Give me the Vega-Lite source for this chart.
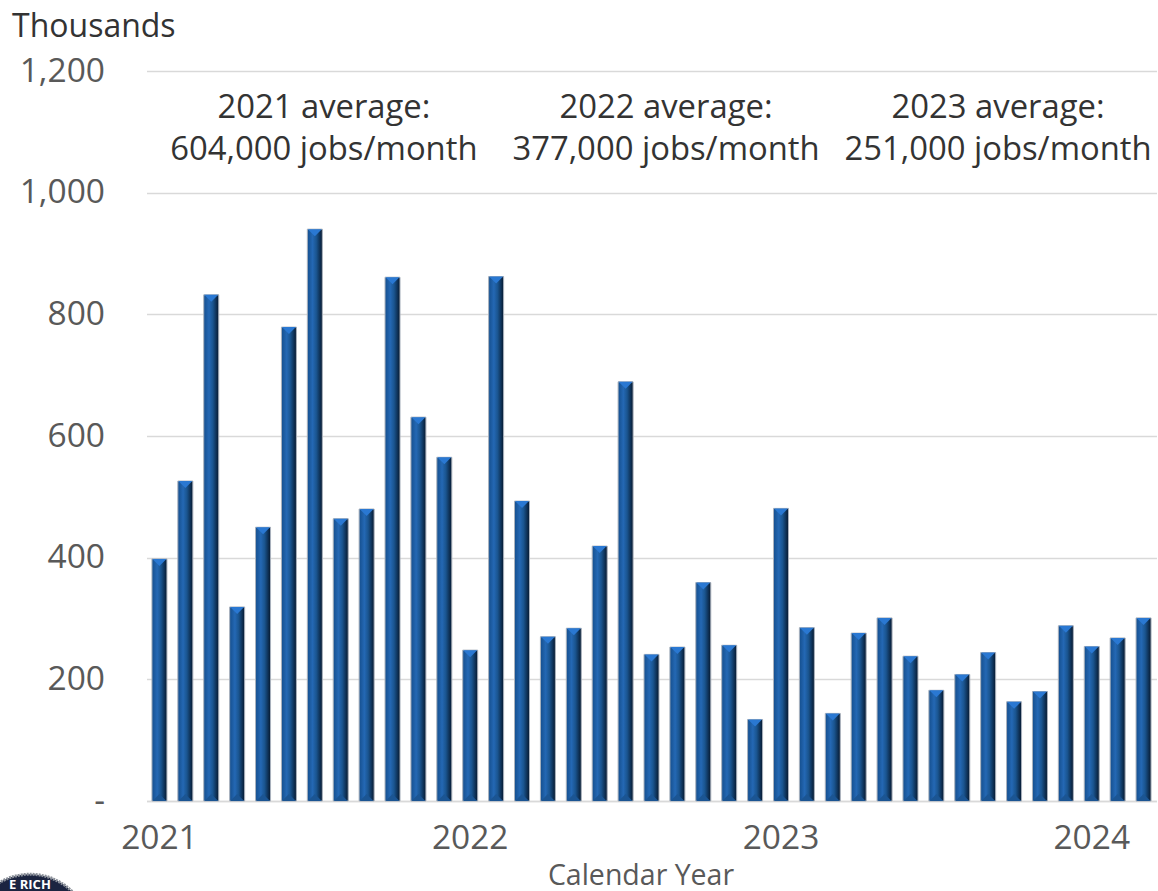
{"$schema":"https://vega.github.io/schema/vega-lite/v6.json","width":1010,"height":730,"autosize":"none","padding":{"left":146.5,"top":71,"right":1.5,"bottom":90},"background":"white","config":{"view":{"stroke":null},"font":"Open Sans"},"datasets":{"jobs":[{"month":"2021-01","jobs":398},{"month":"2021-02","jobs":526},{"month":"2021-03","jobs":832},{"month":"2021-04","jobs":319},{"month":"2021-05","jobs":450},{"month":"2021-06","jobs":779},{"month":"2021-07","jobs":940},{"month":"2021-08","jobs":464},{"month":"2021-09","jobs":480},{"month":"2021-10","jobs":861},{"month":"2021-11","jobs":631},{"month":"2021-12","jobs":565},{"month":"2022-01","jobs":248},{"month":"2022-02","jobs":862},{"month":"2022-03","jobs":493},{"month":"2022-04","jobs":270},{"month":"2022-05","jobs":284},{"month":"2022-06","jobs":419},{"month":"2022-07","jobs":689},{"month":"2022-08","jobs":241},{"month":"2022-09","jobs":253},{"month":"2022-10","jobs":359},{"month":"2022-11","jobs":256},{"month":"2022-12","jobs":134},{"month":"2023-01","jobs":481},{"month":"2023-02","jobs":285},{"month":"2023-03","jobs":144},{"month":"2023-04","jobs":276},{"month":"2023-05","jobs":301},{"month":"2023-06","jobs":238},{"month":"2023-07","jobs":182},{"month":"2023-08","jobs":208},{"month":"2023-09","jobs":244},{"month":"2023-10","jobs":163},{"month":"2023-11","jobs":180},{"month":"2023-12","jobs":288},{"month":"2024-01","jobs":254},{"month":"2024-02","jobs":268},{"month":"2024-03","jobs":301}],"notes":[{"pos":6.35,"y":1140,"label":"2021 average:\n604,000 jobs/month"},{"pos":19.56,"y":1140,"label":"2022 average:\n377,000 jobs/month"},{"pos":32.38,"y":1140,"label":"2023 average:\n251,000 jobs/month"}],"seal":[{"pos":-5,"y":-219,"label":"E RICH","laby":-138}]},"resolve":{"scale":{"x":"independent"}},"layer":[{"data":{"name":"jobs"},"layer":[{"mark":{"type":"bar","width":15,"stroke":"#aab2bd","strokeWidth":1,"color":{"gradient":"linear","x1":0,"x2":1,"y1":0,"y2":0,"stops":[{"offset":0,"color":"#154f8e"},{"offset":0.35,"color":"#2468b4"},{"offset":0.6,"color":"#1a5590"},{"offset":1,"color":"#06182e"}]}},"encoding":{"x":{"field":"month","type":"nominal","sort":null,"scale":{"type":"band","paddingInner":0.42,"paddingOuter":0.21},"axis":{"values":["2021-01","2022-01","2023-01","2024-01"],"labelExpr":"slice(datum.value,0,4)","labelAngle":0,"labelFontSize":33.5,"labelColor":"#595959","labelPadding":21,"ticks":false,"domain":true,"domainColor":"#d9d9d9","domainWidth":1.5,"grid":false,"title":"Calendar Year","titleFontSize":28.5,"titleFontWeight":"normal","titleColor":"#595959","titleX":494,"titleY":83,"titleBaseline":"alphabetic"}},"y":{"field":"jobs","type":"quantitative","scale":{"domain":[0,1200],"nice":false},"axis":{"values":[0,200,400,600,800,1000,1200],"labelExpr":"datum.value==0?'-\u00a0\u00a0':format(datum.value,',')","labelFontSize":33.5,"labelColor":"#595959","labelPadding":42,"ticks":false,"domain":false,"grid":true,"gridColor":"#d9d9d9","gridWidth":1.5,"zindex":0,"title":"Thousands","titleAngle":0,"titleAlign":"left","titleBaseline":"alphabetic","titleFontSize":32,"titleFontWeight":"normal","titleColor":"#333333","titleX":-135,"titleY":-35}}}},{"mark":{"type":"point","filled":true,"shape":"M-1,0L1,0L0,1Z","size":196,"color":"#2a78d2","opacity":1},"encoding":{"x":{"field":"month","type":"nominal","sort":null,"scale":{"type":"band","paddingInner":0.42,"paddingOuter":0.21}},"y":{"field":"jobs","type":"quantitative"}}},{"mark":{"type":"point","filled":true,"shape":"M-1,0L1,0L0,-1Z","size":196,"color":"#1b5593","opacity":1},"encoding":{"x":{"field":"month","type":"nominal","sort":null,"scale":{"type":"band","paddingInner":0.42,"paddingOuter":0.21}},"y":{"datum":0,"type":"quantitative"}}}]},{"data":{"name":"notes"},"mark":{"type":"text","fontSize":32.8,"color":"#333333","lineBreak":"\n","lineHeight":42,"align":"center","baseline":"middle"},"encoding":{"x":{"field":"pos","type":"quantitative","scale":{"domain":[-0.5,38.5],"nice":false,"zero":false},"axis":null},"y":{"field":"y","type":"quantitative"},"text":{"field":"label"}}},{"data":{"name":"seal"},"mark":{"type":"point","filled":true,"shape":"circle","size":14400,"color":"#1b2440","stroke":"#8a8f98","strokeWidth":3,"strokeDash":[2,1],"opacity":1},"encoding":{"x":{"field":"pos","type":"quantitative","scale":{"domain":[-0.5,38.5],"nice":false,"zero":false},"axis":null},"y":{"field":"y","type":"quantitative"}}},{"data":{"name":"seal"},"mark":{"type":"text","fontSize":13,"fontWeight":"bold","color":"white","align":"center","baseline":"middle"},"encoding":{"x":{"field":"pos","type":"quantitative","scale":{"domain":[-0.5,38.5],"nice":false,"zero":false},"axis":null},"y":{"field":"laby","type":"quantitative"},"text":{"field":"label"}}}]}
